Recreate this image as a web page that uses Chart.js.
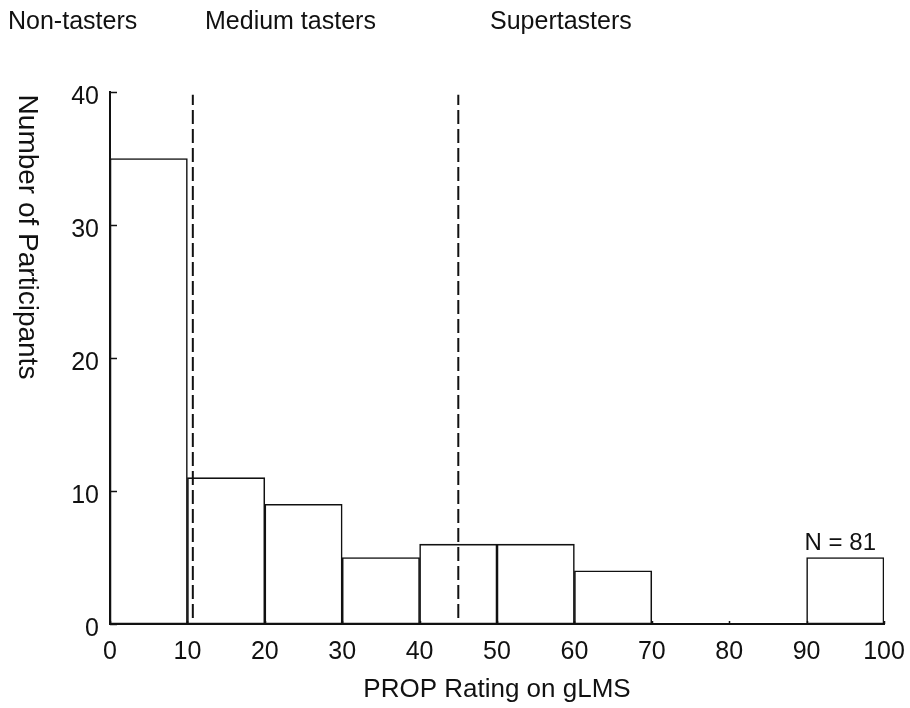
<!DOCTYPE html>
<html>
<head>
<meta charset="utf-8">
<script src="https://cdn.jsdelivr.net/npm/chart.js@4/dist/chart.umd.min.js"></script>
<style>
  html, body { margin: 0; padding: 0; background: #fff; }
  #wrap { position: relative; width: 910px; height: 708px; }
</style>
</head>
<body>
<div id="wrap"><canvas id="c" width="910" height="708"></canvas></div>
<script>
// histogram bins (PROP rating on gLMS), width 10
const binStarts = [0, 10, 20, 30, 40, 50, 60, 70, 80, 90];
const counts = [35, 11, 9, 5, 6, 6, 4, 0, 0, 5];
// taster group cut-offs (dashed lines)
const cutoffs = [10.7, 45];
const cutoffSpan = [0.45, 39.8];
const groupLabels = ['Non-tasters', 'Medium tasters', 'Supertasters'];
const yTicks = [0, 10, 20, 30, 40];
const xTicks = [0, 10, 20, 30, 40, 50, 60, 70, 80, 90, 100];
const nLabel = 'N = 81';

const FONT = '"Liberation Sans", Arial, Helvetica, sans-serif';

const datasets = [{
  type: 'bar',
  order: 2,
  data: binStarts.map((s, i) => ({ x: s + 5, y: counts[i] })),
  backgroundColor: '#fff',
  borderColor: '#111',
  borderWidth: 1.6,
  borderSkipped: false,
  barPercentage: 1,
  categoryPercentage: 1
}];
cutoffs.forEach(c => {
  datasets.push({
    type: 'line',
    order: 1,
    data: cutoffSpan.map(v => ({ x: c, y: v })),
    borderColor: '#111',
    borderWidth: 2,
    borderDash: [14, 5],
    pointRadius: 0,
    fill: false
  });
});

// extra text + inward tick marks
const decor = {
  id: 'decor',
  afterDraw(chart) {
    const { ctx, chartArea: a, scales: { x, y } } = chart;
    ctx.save();
    ctx.strokeStyle = '#111';
    ctx.lineWidth = 1.5;
    yTicks.forEach(v => {
      const py = Math.round(y.getPixelForValue(v)) + 0.5;
      ctx.beginPath();
      ctx.moveTo(a.left, py);
      ctx.lineTo(a.left + 7, py);
      ctx.stroke();
    });
    xTicks.forEach(v => {
      const px = Math.round(x.getPixelForValue(v)) + 0.5;
      ctx.beginPath();
      ctx.moveTo(px, a.bottom);
      ctx.lineTo(px, a.bottom - 3);
      ctx.stroke();
    });

    ctx.fillStyle = '#111';
    ctx.font = '25px ' + FONT;
    ctx.textBaseline = 'middle';
    ctx.textAlign = 'left';
    const gx = [8, 205, 490];
    groupLabels.forEach((t, i) => ctx.fillText(t, gx[i], 22));

    ctx.textAlign = 'right';
    ctx.font = '24px ' + FONT;
    ctx.fillText(nLabel, 876, 543);

    // y title reads top to bottom
    ctx.font = '28px ' + FONT;
    ctx.translate(27, 237);
    ctx.rotate(Math.PI / 2);
    ctx.textAlign = 'center';
    ctx.fillText('Number of Participants', 0, 0);
    ctx.restore();
  }
};

new Chart(document.getElementById('c'), {
  data: { datasets },
  options: {
    responsive: false,
    animation: false,
    layout: { padding: { top: 92, right: 26, left: 0, bottom: 0 } },
    plugins: { legend: { display: false }, tooltip: { enabled: false } },
    scales: {
      x: {
        type: 'linear',
        min: 0,
        max: 100,
        offset: false,
        afterBuildTicks: s => { s.ticks = xTicks.map(v => ({ value: v })); },
        afterFit: s => { s.height = 84; },
        grid: { display: false, offset: false },
        border: { display: true, color: '#111', width: 2 },
        ticks: { color: '#111', padding: 5, font: { family: FONT, size: 25 } },
        title: {
          display: true,
          text: 'PROP Rating on gLMS',
          color: '#111',
          font: { family: FONT, size: 26 },
          padding: { top: 0, bottom: 3 }
        }
      },
      y: {
        type: 'linear',
        min: 0,
        max: 40,
        afterBuildTicks: s => { s.ticks = yTicks.map(v => ({ value: v })); },
        afterFit: s => { s.width = 110; },
        grid: { display: false },
        border: { display: true, color: '#111', width: 2 },
        ticks: { color: '#111', padding: 3, labelOffset: 5, font: { family: FONT, size: 25 } }
      }
    }
  },
  plugins: [decor]
});
</script>
</body>
</html>
